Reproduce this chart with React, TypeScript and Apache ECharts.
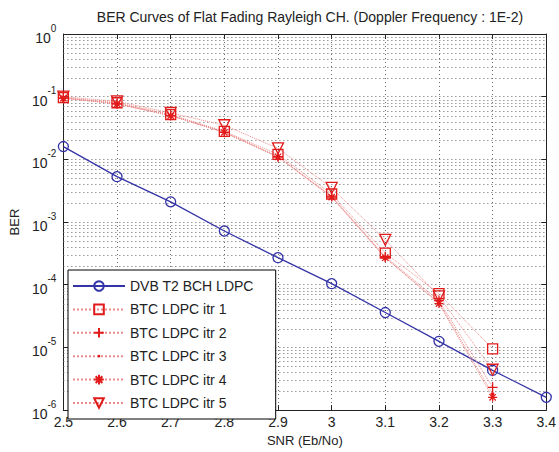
import React, { useEffect, useRef } from "react";
import * as echarts from "echarts";

const snr = [2.5, 2.6, 2.7, 2.8, 2.9, 3.0, 3.1, 3.2, 3.3, 3.4];
const dvbT2 = [1.6e-2, 5.3e-3, 2.1e-3, 7.2e-4, 2.7e-4, 1.04e-4, 3.6e-5, 1.25e-5, 4.3e-6, 1.6e-6];
const btcItr1 = [0.097, 0.08, 0.052, 0.028, 0.012, 2.8e-3, 3.2e-4, 7.2e-5, 9.5e-6];
const btcItr2 = [0.095, 0.077, 0.05, 0.027, 0.011, 2.6e-3, 2.8e-4, 5.6e-5, 2.3e-6];
const btcItr3 = [0.095, 0.077, 0.05, 0.027, 0.011, 2.5e-3, 2.7e-4, 5.2e-5, 1.8e-6];
const btcItr4 = [0.095, 0.077, 0.05, 0.027, 0.011, 2.5e-3, 2.7e-4, 5.0e-5, 1.6e-6];
const btcItr5 = [0.1, 0.084, 0.055, 0.035, 0.015, 3.5e-3, 5.2e-4, 6.5e-5, 4.4e-6];

const seriesNames = [
  "DVB T2 BCH LDPC",
  "BTC LDPC itr 1",
  "BTC LDPC itr 2",
  "BTC LDPC itr 3",
  "BTC LDPC itr 4",
  "BTC LDPC itr 5",
];
const decades = [1e-6, 1e-5, 1e-4, 1e-3, 1e-2, 1e-1];
const minorMultipliers = [2, 3, 4, 5, 6, 7, 8, 9];

const FONT = "Liberation Sans, Arial, sans-serif";
const BLUE = "#3434a8";
const RED = "#e21a1a";
const RED_LINE = "#ec8a8a";
const GRID = "#666";

const PLUS = "path://M5,0L5,10M0,5L10,5";
const STAR = "path://M5,0L5,10M0,5L10,5M1.5,1.5L8.5,8.5M8.5,1.5L1.5,8.5";
const DOT = "path://M0,0L0.01,0M10,10L10.01,10M5,3.6A1.4,1.4,0,1,1,5,6.4A1.4,1.4,0,1,1,5,3.6Z";

const pairs = (arr: number[]) => arr.map((v, i) => [snr[i], v]);

export default function App() {
  const ref = useRef<HTMLDivElement>(null);
  useEffect(() => {
    if (!ref.current) return;
    const chart = echarts.init(ref.current, null, { renderer: "svg" });

    const minorValues: number[][] = [];
    decades.forEach((d) =>
      minorMultipliers.forEach((m) => minorValues.push([snr[0], d * m]))
    );

    const redSeries = (
      name: string,
      arr: number[],
      symbol: string,
      size: number,
      style: "hollow" | "filled",
      rotate = 0
    ) => ({
      name,
      type: "line",
      data: pairs(arr),
      symbol,
      symbolSize: size,
      symbolRotate: rotate,
      showAllSymbol: true,
      lineStyle: { color: RED_LINE, width: 1, type: "dotted" },
      itemStyle:
        style === "filled"
          ? { color: RED, borderWidth: 0 }
          : { color: "transparent", borderColor: RED, borderWidth: 1.3 },
      z: 4,
    });

    const yLabel = (v: number) => {
      const e = Math.round(Math.log10(v));
      return `{b|10}{s|${e}}`;
    };

    const option: any = {
      animation: false,
      backgroundColor: "#fff",
      title: {
        text: "BER Curves of Flat Fading Rayleigh CH. (Doppler Frequency : 1E-2)",
        left: 305,
        textAlign: "center",
        top: 5,
        textStyle: { fontFamily: FONT, fontSize: 14, fontWeight: "normal", color: "#222" },
      },
      grid: { left: 63, right: 8, top: 34, bottom: 40, show: false },
      legend: {
        orient: "vertical",
        left: 68,
        top: 270,
        padding: [9, 22, 9, 4],
        itemWidth: 52,
        itemHeight: 12,
        itemGap: 9.4,
        borderColor: "#000",
        borderWidth: 1,
        backgroundColor: "#fff",
        textStyle: { fontFamily: FONT, fontSize: 14, color: "#222" },
        data: seriesNames,
      },
      xAxis: [
        {
          type: "value",
          min: 2.5,
          max: 3.4,
          interval: 0.1,
          name: "SNR (Eb/No)",
          nameLocation: "middle",
          nameGap: 23,
          nameTextStyle: { fontFamily: FONT, fontSize: 13, color: "#222" },
          axisLine: { show: true, onZero: false, lineStyle: { color: "#222", width: 1 } },
          axisTick: { show: true, inside: true, length: 5, lineStyle: { color: "#222" } },
          axisLabel: {
            fontFamily: FONT,
            fontSize: 14,
            color: "#222",
            margin: 5,
            formatter: (v: number) => String(Number(v.toFixed(1))),
          },
          splitLine: { show: true, lineStyle: { color: GRID, type: [1, 3], width: 1 } },
        },
        {
          type: "value",
          position: "top",
          min: 2.5,
          max: 3.4,
          interval: 0.1,
          axisLine: { show: true, onZero: false, lineStyle: { color: "#222", width: 1 } },
          axisTick: { show: true, inside: true, length: 5, lineStyle: { color: "#222" } },
          axisLabel: { show: false },
          splitLine: { show: false },
        },
      ],
      yAxis: [
        {
          type: "log",
          logBase: 10,
          min: 1e-6,
          max: 1,
          name: "BER",
          nameLocation: "middle",
          nameGap: 42,
          nameTextStyle: { fontFamily: FONT, fontSize: 13, color: "#222" },
          axisLine: { show: true, onZero: false, lineStyle: { color: "#222", width: 1 } },
          axisTick: { show: true, inside: true, length: 5, lineStyle: { color: "#222" } },
          axisLabel: {
            margin: 7,
            formatter: yLabel,
            rich: {
              b: { fontFamily: FONT, fontSize: 14, color: "#222", lineHeight: 22, verticalAlign: "bottom" },
              s: { fontFamily: FONT, fontSize: 10, color: "#222", lineHeight: 22, verticalAlign: "top" },
            },
          },
          splitLine: { show: true, lineStyle: { color: GRID, type: [1, 3], width: 1 } },
        },
        {
          type: "log",
          logBase: 10,
          min: 1e-6,
          max: 1,
          position: "right",
          axisLine: { show: true, onZero: false, lineStyle: { color: "#222", width: 1 } },
          axisTick: { show: true, inside: true, length: 5, lineStyle: { color: "#222" } },
          axisLabel: { show: false },
          splitLine: { show: false },
        },
      ],
      series: [
        {
          name: "minor-grid",
          type: "custom",
          silent: true,
          z: 1,
          data: minorValues,
          renderItem: (params: any, api: any) => {
            const y = Math.round(api.coord([api.value(0), api.value(1)])[1]) + 0.5;
            const cs = params.coordSys;
            return {
              type: "line",
              shape: { x1: cs.x, y1: y, x2: cs.x + cs.width, y2: y },
              style: { stroke: GRID, lineDash: [1, 3], lineWidth: 1 },
              silent: true,
            };
          },
        },
        {
          name: seriesNames[0],
          type: "line",
          data: pairs(dvbT2),
          symbol: "circle",
          symbolSize: 10,
          showAllSymbol: true,
          lineStyle: { color: BLUE, width: 1.3, type: "solid" },
          itemStyle: { color: "transparent", borderColor: BLUE, borderWidth: 1.3 },
          z: 3,
        },
        redSeries(seriesNames[1], btcItr1, "rect", 10, "hollow"),
        redSeries(seriesNames[2], btcItr2, PLUS, 10, "hollow"),
        redSeries(seriesNames[3], btcItr3, DOT, 13, "filled"),
        redSeries(seriesNames[4], btcItr4, STAR, 9, "hollow"),
        redSeries(seriesNames[5], btcItr5, "triangle", 11, "hollow", 180),
      ],
    };
    chart.setOption(option);
    return () => chart.dispose();
  }, []);
  return (
    <div
      ref={ref}
      style={{ position: "fixed", left: 0, top: 0, width: 559, height: 452, background: "#fff" }}
    />
  );
}
